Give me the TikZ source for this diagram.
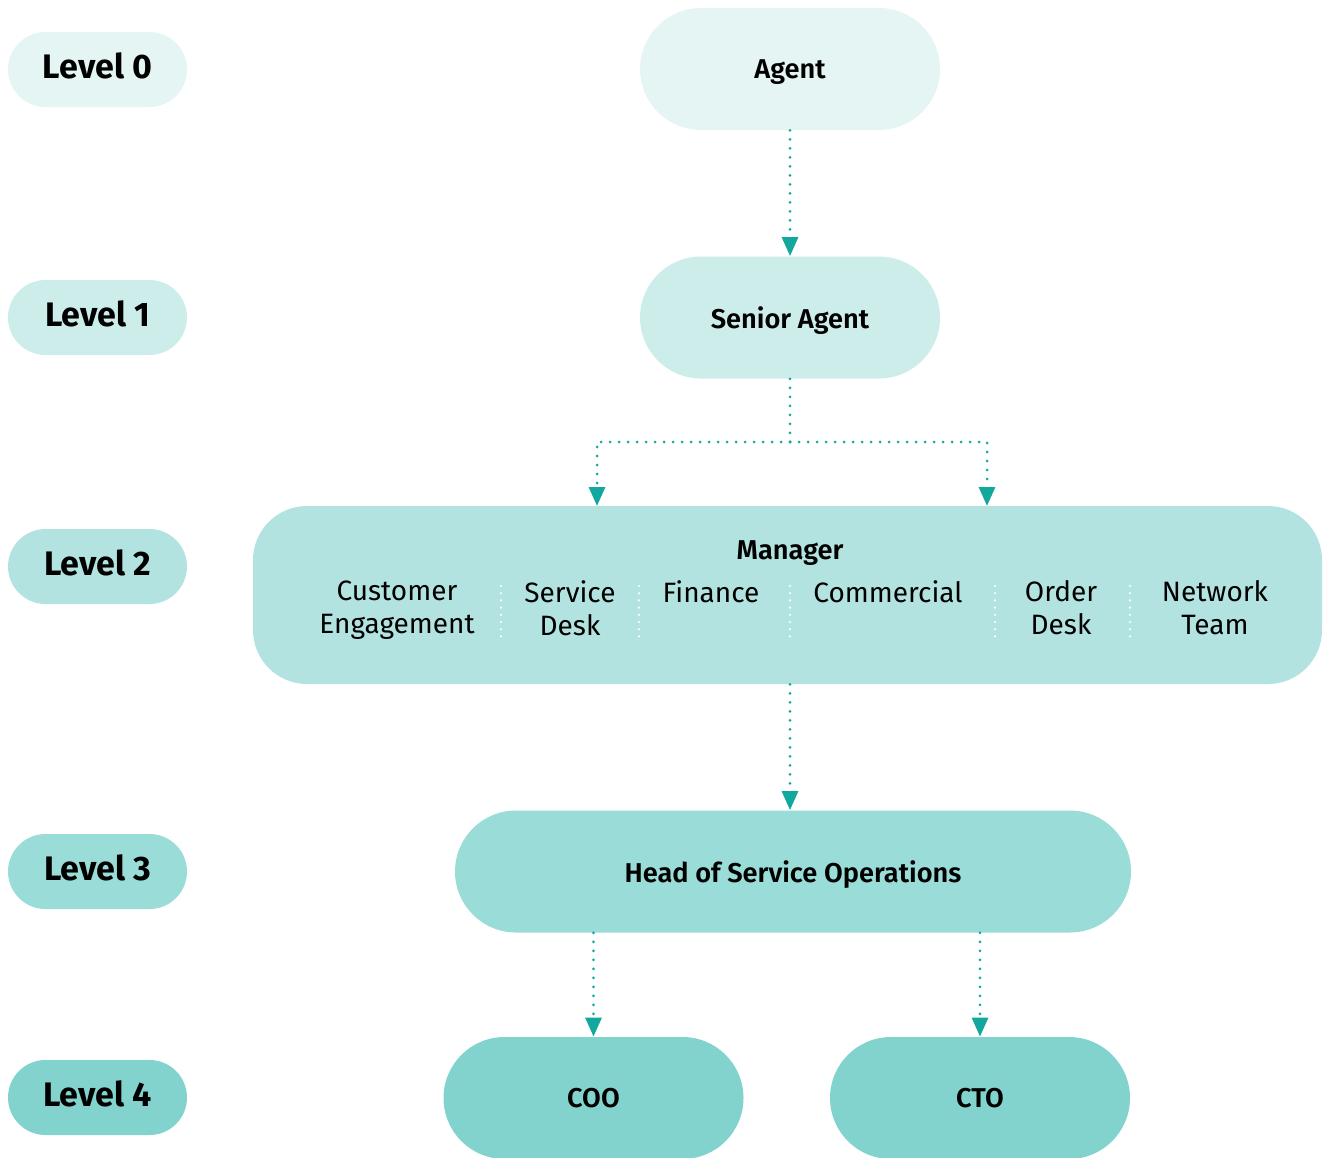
\documentclass[tikz,border=0pt]{standalone}
\usepackage{fontspec}
\setmainfont{Fira Sans}
\newfontface\rolefont{Fira Sans SemiBold}
\usetikzlibrary{arrows.meta,positioning,shapes.misc,calc}
\definecolor{lv0}{HTML}{E4F5F3}
\definecolor{lv1}{HTML}{CDEDEB}
\definecolor{lv2}{HTML}{B3E3E0}
\definecolor{lv3}{HTML}{9ADCD7}
\definecolor{lv4}{HTML}{82D3CE}
\definecolor{linkteal}{HTML}{13A89E}
\tikzset{
levelbox/.style={rounded rectangle,fill=#1,minimum width=89.5pt,minimum height=37.5pt,inner sep=0pt,text height=12pt,text depth=3.3pt,font=\fontsize{17}{20}\selectfont\bfseries},
rolebox/.style={rounded rectangle,fill=#1,minimum width=150pt,minimum height=61pt,inner sep=0pt,text depth=0pt,font=\fontsize{13.6}{16}\rolefont},
dept/.style={align=center,anchor=north,inner sep=0pt,font=\fontsize{14}{16.5}\selectfont},
divider/.style={draw=white,line width=1.2pt,line cap=round,dash pattern=on 0pt off 3.6pt},
dotline/.style={draw=linkteal,line width=1.5pt,line cap=round,dash pattern=on 0pt off 4.5pt},
link/.style={dotline,-{Triangle[width=8pt,length=9.5pt,fill=linkteal]}}
}
\begin{document}
\begin{tikzpicture}[x=0.5pt,y=-0.5pt]
\useasboundingbox (0,0) rectangle (1325,1157);
% levels
\node[levelbox=lv0](lvl0) at (97.5,69.5){Level 0};
\node[levelbox=lv1](lvl1) at (97.5,317.5){Level 1};
\node[levelbox=lv2](lvl2) at (97.5,566.5){Level 2};
\node[levelbox=lv3](lvl3) at (97.5,871.5){Level 3};
\node[levelbox=lv4](lvl4) at (97.5,1097.5){Level 4};
% roles
\node[rolebox=lv0](agent) at (790,69){Agent};
\node[rolebox=lv1](senior) at (790,317.5){Senior Agent};
\node[fill=lv2,rounded corners=27pt,minimum width=534.5pt,minimum height=89pt](manager) at (787.5,595){};
\node[text depth=0pt,font=\fontsize{13.6}{16}\rolefont](mgrtitle) at (790,550){Manager};
\node[dept](cust) at (397,580){Customer\\Engagement};
\node[dept](svcdesk) at (570,580){Service\\Desk};
\node[dept](finance) at (711,580){Finance};
\node[dept](commercial) at (888,580){Commercial};
\node[dept](orderdesk) at (1061,580){Order\\Desk};
\node[dept](network) at (1215,580){Network\\Team};
\foreach \x in {501,639,790,995,1130}
  \draw[divider](\x,586)--(\x,640);
\node[rolebox=lv3,minimum width=338pt](head) at (793,871.5){Head of Service Operations};
\node[rolebox=lv4](coo) at (593.5,1098){COO};
\node[rolebox=lv4](cto) at (980,1098){CTO};
% links
\coordinate(split) at (790,442);
\coordinate(mgrL) at (597,506);
\coordinate(mgrR) at (987,506);
\draw[link](agent)--(senior);
\draw[dotline](senior)--(split);
\draw[link](split)-|(mgrL);
\draw[link](split)-|(mgrR);
\draw[link](manager.south -| senior)--(head.north -| senior);
\draw[link](head.south -| coo)--(coo.north);
\draw[link](head.south -| cto)--(cto.north);
\end{tikzpicture}
\end{document}
